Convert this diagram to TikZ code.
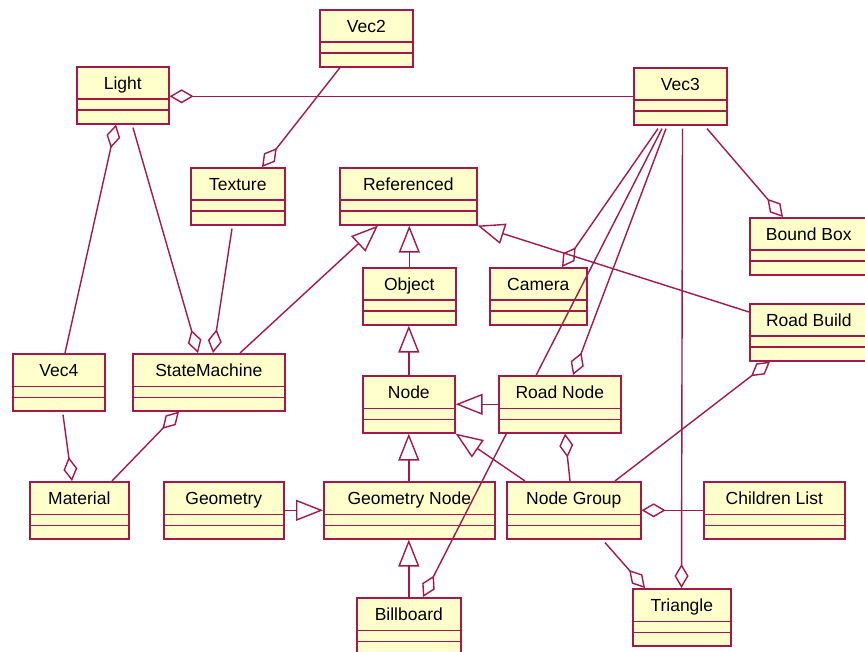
\documentclass[tikz,border=0pt]{standalone}
\usepackage{fontspec}
\setmainfont{Liberation Sans}
\usetikzlibrary{arrows.meta,calc}
\definecolor{lc}{HTML}{A3194B}
\definecolor{fc}{HTML}{FFFFCC}
\tikzset{
  cls/.style={draw=lc, fill=fc, line width=1.6pt, rectangle, inner xsep=0pt, inner ysep=0pt,
    minimum height=57pt, text height=22.5pt, text depth=34.5pt, anchor=north west,
    font=\fontsize{17.5}{19}\selectfont,
    path picture={
      \draw[lc, line width=1.6pt] ([yshift=-32.5pt]path picture bounding box.north west) -- ([yshift=-32.5pt]path picture bounding box.north east);
      \draw[lc, line width=1.6pt] ([yshift=-43.5pt]path picture bounding box.north west) -- ([yshift=-43.5pt]path picture bounding box.north east);
    }},
  conn/.style={draw=lc, line width=1.4pt},
  agg/.style={conn, -{Diamond[open, length=24pt, width=14pt, line width=1.4pt]}},
  inh/.style={conn, -{Triangle[open, length=27pt, width=21pt, line width=1.4pt]}},
}
\begin{document}
\begin{tikzpicture}[x=1pt, y=-1pt]
\fill[white] (0,0) rectangle (865,652);
\useasboundingbox (0,0) rectangle (865,652);
% classes
\node[cls, minimum width=93pt] (vec2) at (319,9) {Vec2};
\node[cls, minimum width=92pt] (light) at (76,66) {Light};
\node[cls, minimum width=93pt] (vec3) at (633,67) {Vec3};
\node[cls, minimum width=94pt] (texture) at (190,167) {Texture};
\node[cls, minimum width=137pt] (ref) at (339,167) {Referenced};
\node[cls, minimum width=118pt] (bb) at (749,217) {Bound Box};
\node[cls, minimum width=93pt] (object) at (362,267) {Object};
\node[cls, minimum width=97pt] (camera) at (489,267) {Camera};
\node[cls, minimum width=118pt] (rb) at (749,303) {Road Build};
\node[cls, minimum width=92pt] (vec4) at (12,353) {Vec4};
\node[cls, minimum width=152pt] (sm) at (132,353) {StateMachine};
\node[cls, minimum width=92pt] (node) at (362,375) {Node};
\node[cls, minimum width=99pt] (material) at (29,481) {Material};
\node[cls, minimum width=120pt] (geo) at (163,481) {Geometry};
\node[cls, minimum width=171pt] (gn) at (323,481) {Geometry Node};
\node[cls, minimum width=134pt] (ng) at (506,481) {Node Group};
\node[cls, minimum width=141pt] (cl) at (703,481) {Children List};
\node[cls, minimum width=104pt] (bill) at (356,597) {Billboard};
\node[cls, minimum width=98pt] (tri) at (632,588) {Triangle};
% Vec3 - Billboard passes behind Road Node
\draw[agg] ([xshift=29pt,yshift=-3pt]vec3.south west) -- ([xshift=67pt]bill.north west);
\node[cls, minimum width=122pt] (rn) at (498,375) {Road Node};
% aggregations
\draw[agg] (vec3.west) -- (vec3.west -| light.east);
\draw[agg] ([xshift=21pt]vec2.south west) -- ([xshift=72pt]texture.north west);
\draw[agg] ([xshift=53pt]vec4.north west) -- ([xshift=40pt]light.south west);
\draw[agg] ([xshift=57pt,yshift=-3pt]light.south west) -- ([xshift=66pt]sm.north west);
\draw[agg] ([xshift=42pt,yshift=-3pt]texture.south west) -- ([xshift=81pt]sm.north west);
\draw[agg] ([xshift=74pt,yshift=-3pt]vec3.south west) -- ([xshift=34pt]bb.north west);
\draw[agg] ([xshift=25pt,yshift=-3pt]vec3.south west) -- ([xshift=73pt]camera.north west);
\draw[agg] ([xshift=33pt,yshift=-3pt]vec3.south west) -- ([xshift=75pt]rn.north west);
\draw[agg] ([xshift=49.5pt,yshift=-3pt]vec3.south west) -- ([xshift=49.5pt]tri.north west);
\draw[agg] ([xshift=99pt,yshift=-3pt]ng.south west) -- ([xshift=13pt]tri.north west);
\draw[agg] ([xshift=64pt]ng.north west) -- ([xshift=67pt]rn.south west);
\draw[agg] ([xshift=109pt]ng.north west) -- ([xshift=21pt]rb.south west);
\draw[agg] (cl.west) -- (cl.west -| ng.east);
\draw[agg] ([xshift=51pt,yshift=-3pt]vec4.south west) -- ([xshift=43pt]material.north west);
\draw[agg] ([xshift=83pt]material.north west) -- ([xshift=47pt]sm.south west);
% generalizations
\draw[inh] ([xshift=108pt]sm.north west) -- ([xshift=39pt]ref.south west);
\draw[inh] (object.north) -- (object.north |- ref.south);
\draw[inh] (node.north) -- (node.north |- object.south);
\draw[inh] (gn.north -| node.north) -- (node.south);
\draw[inh] (bill.north -| node.north) -- (node.north |- gn.south);
\draw[inh] (geo.east) -- (geo.east -| gn.west);
\draw[inh] (rn.west) -- (node.east);
\draw[inh] ([xshift=19pt]ng.north west) -- (node.south east);
\draw[inh] ([yshift=-9pt]rb.north west) -- (ref.south east);
\end{tikzpicture}
\end{document}
